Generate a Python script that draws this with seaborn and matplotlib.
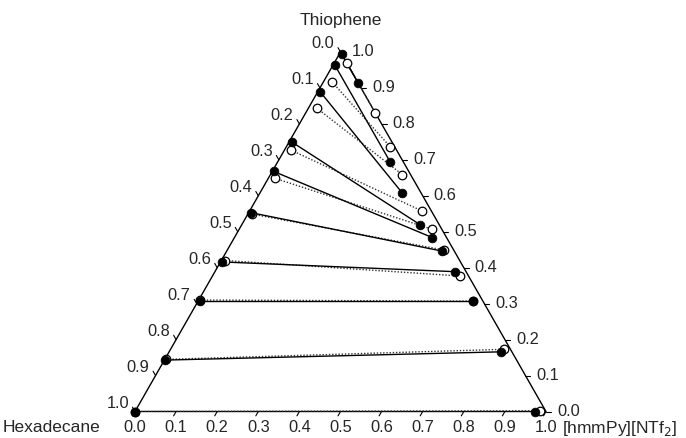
import numpy as np
import pandas as pd
import matplotlib
matplotlib.use("Agg")
import matplotlib.pyplot as plt
import seaborn as sns

sns.set_theme(style="white")
plt.rcParams["font.family"] = ["Liberation Sans", "DejaVu Sans"]

# Tie-line end compositions (mole fractions); hexadecane = 1 - thiophene - IL
# Experimental: hexadecane-rich (raffinate) and IL-rich (extract) phases
exp_raff_thio = [0.000, 0.143, 0.308, 0.416, 0.553, 0.668, 0.750, 0.890, 0.963, 0.994]
exp_raff_il = [0.000, 0.002, 0.004, 0.004, 0.006, 0.003, 0.006, 0.005, 0.005, 0.006]
exp_ext_thio = [0.000, 0.166, 0.308, 0.389, 0.446, 0.484, 0.519, 0.609, 0.695, 0.915]
exp_ext_il = [0.973, 0.808, 0.668, 0.583, 0.525, 0.481, 0.435, 0.345, 0.273, 0.085]

# Calculated (NRTL) tie lines
calc_raff_thio = [0.000, 0.145, 0.310, 0.420, 0.549, 0.649, 0.727, 0.844, 0.916, 0.970]
calc_raff_il = [0.000, 0.003, 0.004, 0.010, 0.011, 0.015, 0.016, 0.020, 0.022, 0.030]
calc_ext_thio = [0.002, 0.173, 0.307, 0.377, 0.449, 0.507, 0.558, 0.659, 0.737, 0.831]
calc_ext_il = [0.985, 0.811, 0.670, 0.602, 0.528, 0.469, 0.419, 0.321, 0.252, 0.169]

tick_values = [0.0, 0.1, 0.2, 0.3, 0.4, 0.5, 0.6, 0.7, 0.8, 0.9, 1.0]
tick_labels = [f"{v:.1f}" for v in tick_values]

vertex_top = "Thiophene"
vertex_left = "Hexadecane"
vertex_right = "[hmmPy][NTf$_2$]"


def to_xy(thio, il):
    """Ternary (thiophene, IL) -> Cartesian in a unit-height triangle."""
    thio = np.asarray(thio, float)
    il = np.asarray(il, float)
    return il + 0.5 * thio, thio


def tie_frame(raff_t, raff_il, ext_t, ext_il):
    rows = []
    for i in range(len(raff_t)):
        for t, c in ((raff_t[i], raff_il[i]), (ext_t[i], ext_il[i])):
            x, y = to_xy(t, c)
            rows.append({"tie": i, "x": float(x), "y": float(y)})
    return pd.DataFrame(rows)


exp_df = tie_frame(exp_raff_thio, exp_raff_il, exp_ext_thio, exp_ext_il)
calc_df = tie_frame(calc_raff_thio, calc_raff_il, calc_ext_thio, calc_ext_il)

fig = plt.figure(figsize=(6.86, 4.38), dpi=100)
# axes spans exactly the triangle: base 135..546 px, apex at 52 px, base at 411.5 px
ax = fig.add_axes([135 / 686, 26.5 / 438, 411 / 686, 359.5 / 438])
ax.set_xlim(0, 1)
ax.set_ylim(0, 1)
ax.axis("off")

W_PX, H_PX = 411.0, 359.5

# triangle frame
ax.plot([0, 1, 0.5, 0], [0, 0, 1, 0], color="black", lw=1.0, clip_on=False,
        solid_joinstyle="miter", zorder=2)

# tie lines
sns.lineplot(data=calc_df, x="x", y="y", units="tie", estimator=None, sort=False,
             color="#333333", lw=1.0, linestyle=(0, (1, 1.3)), ax=ax, zorder=3)
sns.lineplot(data=exp_df, x="x", y="y", units="tie", estimator=None, sort=False,
             color="black", lw=1.0, ax=ax, zorder=4)

# phase compositions
sns.scatterplot(data=calc_df, x="x", y="y", marker="o", s=38, facecolor="white",
                edgecolor="black", linewidth=0.9, ax=ax, zorder=5, clip_on=False)
sns.scatterplot(data=exp_df, x="x", y="y", marker="o", s=40, color="black",
                edgecolor="black", linewidth=0.5, ax=ax, zorder=6, clip_on=False)

TL = 5.0  # tick length in pixels
fs_tick = 11.8
fs_name = 12.5
for v, lab in zip(tick_values, tick_labels):
    # bottom axis: IL fraction, ticks parallel to the left edge
    bx, by = v, 0.0
    d = np.array([-205.5, -359.5]) / np.hypot(205.5, 359.5) * TL
    ax.plot([bx, bx + d[0] / W_PX], [by, by + d[1] / H_PX], color="black",
            lw=0.8, clip_on=False, zorder=2)
    ax.annotate(lab, (bx, by), xytext=(0, -16.5), textcoords="offset pixels",
                ha="center", va="center", fontsize=fs_tick)

    # right axis: thiophene fraction, horizontal ticks
    rx, ry = 1 - 0.5 * v, v
    ax.plot([rx, rx + TL / W_PX], [ry, ry], color="black", lw=0.8,
            clip_on=False, zorder=2)
    ax.annotate(lab, (rx, ry), xytext=(11, 0), textcoords="offset pixels",
                ha="left", va="center", fontsize=fs_tick)

    # left axis: hexadecane fraction, ticks parallel to the right edge
    lx, ly = 0.5 * (1 - v), 1 - v
    d = np.array([-205.5, 359.5]) / np.hypot(205.5, 359.5) * TL
    ax.plot([lx, lx + d[0] / W_PX], [ly, ly + d[1] / H_PX], color="black",
            lw=0.8, clip_on=False, zorder=2)
    ax.annotate(lab, (lx, ly), xytext=(-6, 8), textcoords="offset pixels",
                ha="right", va="center", fontsize=fs_tick)

ax.annotate(vertex_top, (0.5, 1.0), xytext=(0, 32), textcoords="offset pixels",
            ha="center", va="center", fontsize=fs_name)
ax.annotate(vertex_left, (0.0, 0.0), xytext=(-35, -16.5), textcoords="offset pixels",
            ha="right", va="center", fontsize=fs_name)
ax.annotate(vertex_right, (1.0, 0.0), xytext=(16, -16.5), textcoords="offset pixels",
            ha="left", va="center", fontsize=fs_name)

fig.savefig("out.png", dpi=100)
